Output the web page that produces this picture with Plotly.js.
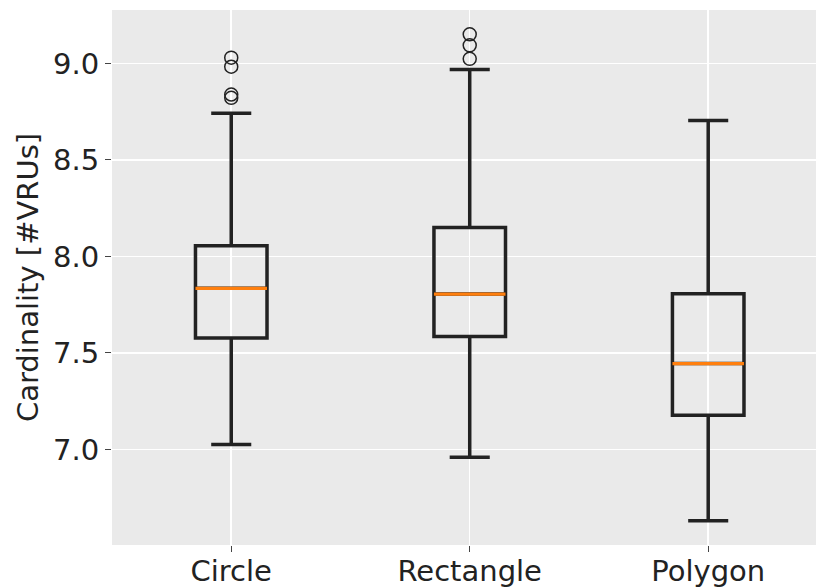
<!DOCTYPE html>
<html>
<head>
<meta charset="utf-8">
<script src="https://cdn.plot.ly/plotly-3.0.1.min.js"></script>
<style>html,body{margin:0;padding:0;background:#fff;}#chart{width:816px;height:587px;}</style>
</head>
<body>
<div id="chart"></div>
<script>
const categories = ["Circle", "Rectangle", "Polygon"];
const positions = [1, 2, 3];
const q1 = [7.577, 7.585, 7.177];
const medians = [7.835, 7.805, 7.445];
const q3 = [8.055, 8.150, 7.807];
const lowerWhisker = [7.026, 6.960, 6.630];
const upperWhisker = [8.742, 8.969, 8.704];
const circleOutliers = [9.030, 8.983, 8.839, 8.822];
const rectangleOutliers = [9.151, 9.094, 9.024];
const polygonOutliers = [];
const yTicks = [7.0, 7.5, 8.0, 8.5, 9.0];

const outlierSets = [circleOutliers, rectangleOutliers, polygonOutliers];
const outX = [], outY = [];
outlierSets.forEach((arr, i) => arr.forEach(v => { outX.push(positions[i]); outY.push(v); }));

const boxColor = '#222222';
const traces = [
  {
    type: 'box', x: positions, q1: q1, median: medians, q3: q3,
    lowerfence: lowerWhisker, upperfence: upperWhisker,
    width: 0.3, whiskerwidth: 0.56, boxpoints: false,
    line: {color: boxColor, width: 3.5}, fillcolor: 'rgba(0,0,0,0)',
    hoverinfo: 'skip', showlegend: false
  },
  {
    type: 'box', x: positions, q1: medians, median: medians, q3: medians,
    lowerfence: medians, upperfence: medians,
    width: 0.3, whiskerwidth: 0, boxpoints: false,
    line: {color: '#ff7f0e', width: 3.3}, fillcolor: 'rgba(0,0,0,0)',
    hoverinfo: 'skip', showlegend: false
  },
  {
    type: 'scatter', mode: 'markers', x: outX, y: outY,
    marker: {symbol: 'circle-open', size: 13, color: boxColor, line: {width: 1.5, color: boxColor}},
    hoverinfo: 'skip', showlegend: false
  }
];

const layout = {
  width: 816, height: 587,
  margin: {l: 112, r: 0, t: 10, b: 42},
  paper_bgcolor: '#ffffff', plot_bgcolor: '#EAEAEA',
  font: {family: 'DejaVu Sans', size: 29, color: '#222222'},
  boxmode: 'overlay',
  showlegend: false,
  xaxis: {
    range: [0.5, 3.452], tickvals: positions, ticktext: categories,
    showgrid: true, gridcolor: '#ffffff', gridwidth: 1.5,
    zeroline: false, showline: false,
    ticks: 'outside', ticklen: 6, tickwidth: 1, tickcolor: '#444444',
    ticklabelstandoff: -6,
    tickfont: {family: 'DejaVu Sans', size: 29, color: '#222222'}
  },
  yaxis: {
    range: [6.505, 9.277], tickvals: yTicks, ticktext: yTicks.map(v => v.toFixed(1)),
    showgrid: true, gridcolor: '#ffffff', gridwidth: 1.5,
    zeroline: false, showline: false,
    ticks: 'outside', ticklen: 6, tickwidth: 1, tickcolor: '#444444',
    tickfont: {family: 'DejaVu Sans', size: 29, color: '#222222'},
    title: {text: 'Cardinality [#VRUs]', standoff: 5, font: {family: 'DejaVu Sans', size: 29, color: '#222222'}}
  }
};

Plotly.newPlot('chart', traces, layout, {staticPlot: true, displayModeBar: false});
</script>
</body>
</html>
